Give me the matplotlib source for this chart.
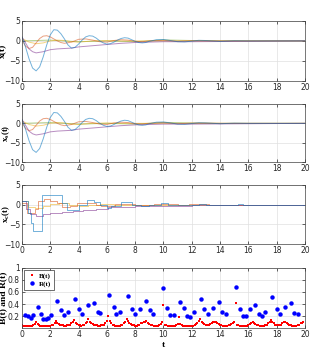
import numpy as np
import matplotlib
matplotlib.use("Agg")
import matplotlib.pyplot as plt

# ---------------- data ----------------
# continuous state trajectories (panel 1 and 2)
t_blue = [0, 0.25, 0.5, 0.75, 1.0, 1.25, 1.5, 1.75, 2.0, 2.25, 2.5, 2.75, 3.0, 3.25, 3.5, 3.75, 4.0,
          4.25, 4.5, 4.75, 5.0, 5.25, 5.5, 5.75, 6.0, 6.25, 6.5, 6.75, 7.0, 7.25, 7.5, 7.75, 8.0,
          8.25, 8.5, 8.75, 9.0, 9.5, 10.0, 10.5, 11.0, 11.5, 12.0, 12.5, 13.0, 14.0, 15.0, 16.0, 20.0]
x_blue = [1.0, -1.5, -4.5, -6.8, -7.5, -6.5, -4.0, -1.0, 1.5, 2.8, 2.7, 1.8, 0.5, -1.0, -1.8, -1.6, -0.8,
          0.2, 1.0, 1.3, 1.2, 0.7, 0.0, -0.5, -0.8, -0.7, -0.3, 0.2, 0.6, 0.8, 0.7, 0.3, -0.1,
          -0.4, -0.5, -0.4, -0.1, 0.3, 0.35, 0.1, -0.2, -0.25, -0.05, 0.15, 0.1, -0.1, 0.05, 0.0, 0.0]

t_orange = [0, 0.25, 0.5, 0.75, 1.0, 1.25, 1.5, 1.75, 2.0, 2.25, 2.5, 2.75, 3.0, 3.5, 4.0, 4.5, 5.0,
            5.5, 6.0, 6.5, 7.0, 7.5, 8.0, 8.5, 9.0, 10.0, 11.0, 12.0, 13.0, 14.0, 20.0]
x_orange = [0.2, -1.3, -1.9, -1.6, -0.5, 0.6, 1.2, 1.3, 1.0, 0.5, 0.0, -0.4, -0.6, -0.3, 0.4, 0.5, 0.2,
            -0.2, -0.3, 0.1, 0.3, 0.2, -0.1, -0.2, 0.0, 0.15, -0.1, 0.05, 0.05, 0.0, 0.0]

t_yellow = [0, 0.5, 1.0, 1.5, 2.0, 2.5, 3.0, 3.5, 4.0, 5.0, 6.0, 7.0, 8.0, 20.0]
x_yellow = [0.6, -0.3, -0.7, -0.5, 0.0, 0.2, 0.1, -0.2, -0.3, 0.0, 0.1, 0.0, 0.0, 0.0]

t_purple = [0, 0.25, 0.5, 0.75, 1.0, 1.5, 2.0, 2.5, 3.0, 3.5, 4.0, 5.0, 6.0, 7.0, 8.0, 9.0, 10.0,
            12.0, 14.0, 16.0, 18.0, 20.0]
x_purple = [1.0, -0.5, -2.0, -2.7, -3.0, -2.7, -2.2, -2.0, -1.9, -1.8, -1.5, -1.2, -0.9, -0.6, -0.4,
            -0.3, -0.2, -0.2, -0.15, -0.1, -0.05, 0.0]

t_green = [0, 2.0, 4.0, 6.0, 8.0, 10.0, 12.0, 14.0, 20.0]
x_green = [0.0, 0.2, -0.2, 0.0, -0.2, 0.25, 0.1, 0.0, 0.0]

# sampled (zero-order hold) states (panel 3)
ts_blue = [0, 0.4, 0.62, 0.8, 1.4, 2.8, 3.2, 4.0, 4.6, 5.1, 5.5, 6.0, 6.3, 7.0, 7.8, 8.4, 9.0, 9.8,
           10.3, 11.0, 12.5, 13.0, 15.3, 15.6, 20.0]
xs_blue = [1.0, -2.2, -4.6, -6.8, 2.4, 0.3, -1.3, -0.1, 1.2, 0.6, 0.0, -0.8, -0.3, 0.7, 0.0, -0.4,
           0.0, 0.3, 0.0, -0.1, 0.25, 0.0, 0.1, 0.0, 0.0]
ts_orange = [0, 0.35, 0.9, 1.15, 1.55, 1.95, 2.5, 2.8, 3.4, 3.9, 4.7, 5.2, 5.6, 6.2, 6.6, 7.4, 8.0,
             8.7, 9.3, 10.2, 11.0, 11.8, 12.4, 13.2, 20.0]
xs_orange = [0.5, -2.2, -1.2, 1.0, 1.5, 1.0, 0.3, -0.5, -0.3, 0.5, 0.3, -0.1, -0.4, -0.3, 0.2, 0.2,
             -0.1, -0.2, 0.1, 0.15, -0.1, 0.05, 0.1, 0.0, 0.0]
ts_yellow = [0, 0.4, 0.9, 1.5, 2.0, 2.6, 3.3, 4.0, 4.7, 5.5, 6.5, 20.0]
xs_yellow = [0.8, -0.5, -0.8, -0.3, 0.2, 0.3, -0.2, -0.4, 0.0, 0.2, 0.0, 0.0]
ts_purple = [0, 0.3, 0.6, 1.0, 1.5, 2.0, 2.8, 3.6, 4.3, 5.2, 6.1, 7.0, 8.0, 9.0, 10.0, 12.0, 14.0,
             16.0, 18.0, 20.0]
xs_purple = [1.0, -1.0, -2.5, -3.0, -2.5, -2.1, -1.9, -1.6, -1.3, -1.0, -0.7, -0.5, -0.4, -0.3,
             -0.25, -0.2, -0.15, -0.1, -0.05, 0.0]

# B(t): sampled every 0.1 s
B_vals = [0.05, 0.04, 0.035, 0.03, 0.03, 0.03, 0.035, 0.04, 0.05, 0.07,
          0.10,
          0.07, 0.05, 0.04, 0.035, 0.03, 0.03, 0.03, 0.03, 0.035, 0.04, 0.05, 0.06, 0.08,
          0.12,
          0.09, 0.07, 0.06, 0.05, 0.045, 0.04, 0.04, 0.045, 0.05, 0.06, 0.08, 0.10,
          0.13,
          0.09, 0.07, 0.055, 0.045, 0.04, 0.045, 0.06, 0.08, 0.11,
          0.15,
          0.11, 0.09, 0.07, 0.06, 0.05, 0.045, 0.04, 0.04, 0.045, 0.05, 0.06, 0.08, 0.12,
          0.20,
          0.12, 0.08, 0.06, 0.05, 0.04, 0.035, 0.035, 0.04, 0.05, 0.06, 0.08, 0.11,
          0.15,
          0.12, 0.09, 0.07, 0.055, 0.045, 0.04, 0.04, 0.045, 0.06, 0.08, 0.09, 0.10, 0.11,
          0.12,
          0.09, 0.07, 0.055, 0.045, 0.04, 0.035, 0.035, 0.04, 0.05, 0.07, 0.10,
          0.39,
          0.06, 0.05, 0.04, 0.035, 0.03, 0.03, 0.035, 0.04, 0.05, 0.07,
          0.18,
          0.07, 0.05, 0.04, 0.035, 0.03, 0.03, 0.03, 0.03, 0.035, 0.04, 0.05, 0.07, 0.09, 0.12,
          0.15,
          0.11, 0.09, 0.07, 0.055, 0.05, 0.055, 0.065, 0.08, 0.10,
          0.11,
          0.10, 0.08, 0.065, 0.055, 0.045, 0.04, 0.035, 0.035, 0.04, 0.045, 0.055, 0.07, 0.09, 0.10,
          0.41,
          0.06, 0.05, 0.04, 0.035, 0.03, 0.03, 0.035, 0.04, 0.05, 0.07, 0.09,
          0.10,
          0.09, 0.07, 0.06, 0.05, 0.04, 0.035, 0.035, 0.04, 0.05, 0.06, 0.08, 0.11,
          0.14,
          0.10, 0.08, 0.06, 0.05, 0.045, 0.05, 0.06, 0.08, 0.10,
          0.11,
          0.09, 0.07, 0.055, 0.045, 0.04, 0.035, 0.035, 0.04, 0.05, 0.06, 0.08, 0.09,
          0.10]
B_t = np.arange(len(B_vals)) * 0.1

# R(t): event times and values
R_t = [0.21, 0.45, 0.61, 0.80, 1.15, 1.32, 1.50, 1.67, 1.86, 2.02, 2.49, 2.78, 2.99, 3.27, 3.74,
       4.05, 4.26, 4.66, 5.06, 5.34, 5.55, 6.12, 6.49, 6.68, 6.96, 7.48, 7.81, 8.02, 8.33, 8.80,
       9.08, 9.29, 9.98, 10.28, 10.49, 10.73, 11.15, 11.46, 11.69, 11.88, 12.16, 12.64, 12.89,
       13.15, 13.51, 13.91, 14.16, 14.45, 15.11, 15.41, 15.62, 15.86, 16.14, 16.47, 16.75, 16.94,
       17.18, 17.69, 18.02, 18.26, 18.59, 18.99, 19.22, 19.48]
R_v = [0.22, 0.20, 0.17, 0.21, 0.35, 0.24, 0.155, 0.155, 0.17, 0.22, 0.45, 0.30, 0.22, 0.27, 0.48,
       0.31, 0.23, 0.39, 0.42, 0.27, 0.25, 0.555, 0.35, 0.24, 0.26, 0.53, 0.32, 0.23, 0.32, 0.45,
       0.30, 0.24, 0.67, 0.34, 0.21, 0.22, 0.43, 0.34, 0.20, 0.19, 0.26, 0.49, 0.31,
       0.23, 0.34, 0.43, 0.27, 0.24, 0.685, 0.32, 0.205, 0.205, 0.32, 0.38, 0.24, 0.205,
       0.26, 0.515, 0.32, 0.24, 0.35, 0.42, 0.245, 0.235]

x_ticks = [0, 2, 4, 6, 8, 10, 12, 14, 16, 18, 20]
state_yticks = [-10, -5, 0, 5]
br_yticks = [0.2, 0.4, 0.6, 0.8, 1.0]
br_yticklabels = ["0.2", "0.4", "0.6", "0.8", "1"]

# ---------------- style ----------------
C_BLUE = (0.0, 0.447, 0.741)
C_ORANGE = (0.85, 0.325, 0.098)
C_YELLOW = (0.929, 0.694, 0.125)
C_PURPLE = (0.494, 0.184, 0.556)
C_GREEN = (0.466, 0.674, 0.188)
ALPHA = 0.55
LW = 0.7

label_font = dict(family="Liberation Serif", fontweight="bold", fontsize=6.8)

fig = plt.figure(figsize=(3.14, 3.61), dpi=100)
left, width = 0.070, 0.901
boxes = [(0.776, 0.166), (0.551, 0.161), (0.324, 0.164), (0.091, 0.167)]
axes = [fig.add_axes([left, b, width, h]) for b, h in boxes]

def style(ax):
    ax.set_xlim(0, 20)
    ax.set_xticks(x_ticks)
    ax.tick_params(direction="in", length=2, width=0.5, labelsize=5.5, pad=1.5,
                   top=True, right=True, colors="0.15")
    ax.grid(True, color="0.88", linewidth=0.5)
    ax.set_axisbelow(True)
    for s in ax.spines.values():
        s.set_linewidth(0.5)
        s.set_color("0.25")

cont = [(t_green, x_green, C_GREEN), (t_yellow, x_yellow, C_YELLOW), (t_orange, x_orange, C_ORANGE),
        (t_purple, x_purple, C_PURPLE), (t_blue, x_blue, C_BLUE)]
for ax in axes[:2]:
    for tt, xx, c in cont:
        ax.plot(tt, xx, color=c, alpha=ALPHA, lw=LW)

samp = [(ts_yellow, xs_yellow, C_YELLOW), (ts_orange, xs_orange, C_ORANGE),
        (ts_purple, xs_purple, C_PURPLE), (ts_blue, xs_blue, C_BLUE)]
for tt, xx, c in samp:
    axes[2].plot(tt, xx, color=c, alpha=ALPHA, lw=LW, drawstyle="steps-post")

for ax in axes[:3]:
    style(ax)
    ax.set_ylim(-10, 5)
    ax.set_yticks(state_yticks)

axes[0].set_ylabel("x(t)", **label_font)
sub_font = dict(label_font, fontsize=6.3)
axes[1].set_ylabel(r"x$_\mathregular{s}$(t)", **sub_font)
axes[2].set_ylabel(r"x$_\mathregular{c}$(t)", **sub_font)

ax = axes[3]
ax.plot(B_t, B_vals, linestyle="none", marker="s", markersize=1.6, color="red",
        markeredgewidth=0, label="B(t)")
ax.plot(R_t, R_v, linestyle="none", marker="o", markersize=3.2, color="blue",
        markeredgewidth=0, label="R(t)")
style(ax)
ax.set_ylim(0, 1)
ax.set_yticks(br_yticks)
ax.set_yticklabels(br_yticklabels)
ax.set_ylabel("B(t) and R(t)", **label_font)
ax.set_xlabel("t", labelpad=1, **label_font)

axes[0].yaxis.set_label_coords(-0.052, 0.5)
axes[1].yaxis.set_label_coords(-0.036, 0.5)
axes[2].yaxis.set_label_coords(-0.036, 0.5)
axes[3].yaxis.set_label_coords(-0.052, 0.5)

leg = ax.legend(loc="upper left", prop=dict(family="Liberation Serif", weight="bold", size=5),
                fancybox=False, edgecolor="0.2", framealpha=1, borderpad=0.4,
                handletextpad=0.3, handlelength=1.5, labelspacing=0.3,
                bbox_to_anchor=(0.0, 1.0), borderaxespad=0.3)
leg.get_frame().set_linewidth(0.5)

fig.savefig("out.png", dpi=100)
